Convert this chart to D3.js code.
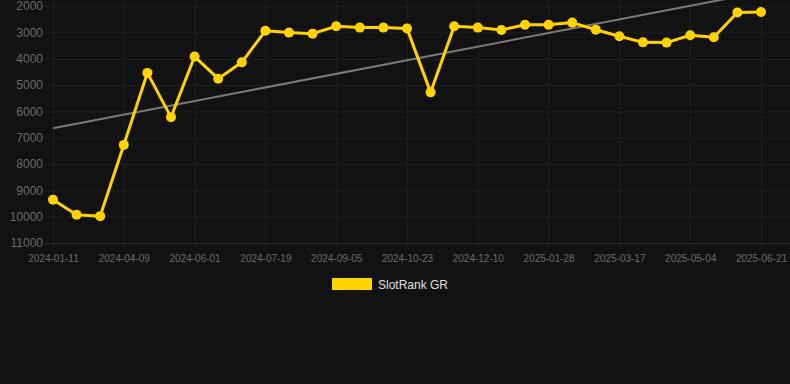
<!DOCTYPE html>
<html lang="en">
<head>
  <meta charset="UTF-8" />
  <title>SlotRank GR</title>
  <script src="https://d3js.org/d3.v7.min.js"></script>
  <style>
    body {
      margin: 0;
      background: #121212;
      font-family: Arial, "Liberation Sans", sans-serif;
    }
    svg { display: block; }
    .grid line { stroke: #1f1f1f; stroke-width: 1; }
    .tick text { fill: #6b6b6b; }
  </style>
</head>
<body>
  <svg width="790" height="384"></svg>
  <script>
    // Dates of each rank sample (only every third one is labelled)
    const dates = [
      "2024-01-11", "2024-02-10", "2024-03-11", "2024-04-09", "2024-04-27", "2024-05-14",
      "2024-06-01", "2024-06-17", "2024-07-03", "2024-07-19", "2024-08-04", "2024-08-20",
      "2024-09-05", "2024-09-21", "2024-10-07", "2024-10-23", "2024-11-08", "2024-11-24",
      "2024-12-10", "2024-12-26", "2025-01-11", "2025-01-28", "2025-02-13", "2025-03-01",
      "2025-03-17", "2025-04-02", "2025-04-18", "2025-05-04", "2025-05-20", "2025-06-05",
      "2025-06-21"
    ];
    // Rank in Greece (lower is better)
    const rankGR = [
      9360, 9930, 9980, 7275, 4540, 6220,
      3920, 4760, 4140, 2940, 3010, 3050,
      2770, 2820, 2820, 2850, 5280, 2770,
      2820, 2910, 2710, 2710, 2630, 2900,
      3150, 3380, 3390, 3110, 3190, 2250,
      2230
    ];
    const yTicks = [2000, 3000, 4000, 5000, 6000, 7000, 8000, 9000, 10000, 11000];
    const seriesName = "SlotRank GR";

    const svg = d3.select("svg");
    const mLeft = 53, mRight = 761, mTop = 6, mBottom = 243;

    const x = d3.scalePoint().domain(dates).range([mLeft, mRight]);
    const y = d3.scaleLinear().domain([2000, 11000]).range([mTop, mBottom]);

    svg.append("defs").append("clipPath").attr("id", "plot")
      .append("rect").attr("x", 0).attr("y", 0).attr("width", 790).attr("height", mBottom);

    // vertical grid + x labels (every third date)
    const labelled = dates.filter((d, i) => i % 3 === 0);
    const xAxis = svg.append("g")
      .attr("class", "grid")
      .attr("transform", `translate(0,${mBottom + 5})`)
      .call(d3.axisBottom(x).tickValues(labelled).tickSize(-(mBottom + 5)).tickPadding(7))
      .call(g => g.select(".domain").remove());
    xAxis.selectAll("text").attr("font-size", 10);

    // horizontal grid + y labels
    const yAxis = svg.append("g")
      .attr("class", "grid")
      .attr("transform", `translate(${mLeft - 8},0)`)
      .call(d3.axisLeft(y).tickValues(yTicks).tickFormat(d3.format("d")).tickSize(0).tickPadding(2))
      .call(g => g.select(".domain").remove());
    yAxis.selectAll("text").attr("font-size", 12);
    yAxis.selectAll("line").attr("x1", 0).attr("x2", 790);
    yAxis.selectAll(".tick").filter(d => d === 11000).select("line").style("stroke", "#2c2c2c");

    // trend line from least-squares fit of the ranks
    const n = rankGR.length;
    const mx = d3.mean(rankGR, (d, i) => i);
    const my = d3.mean(rankGR);
    const slope = d3.sum(rankGR, (d, i) => (i - mx) * (d - my)) / d3.sum(rankGR, (d, i) => (i - mx) * (i - mx));
    const trend = [0, n - 1].map(i => ({ d: dates[i], v: my + slope * (i - mx) }));

    const plot = svg.append("g").attr("clip-path", "url(#plot)");

    plot.append("path")
      .datum(trend)
      .attr("fill", "none")
      .attr("stroke", "#7a7a7a")
      .attr("stroke-width", 2)
      .attr("d", d3.line().x(d => x(d.d)).y(d => y(d.v)));

    const pts = dates.map((d, i) => ({ d, v: rankGR[i] }));

    plot.append("path")
      .datum(pts)
      .attr("fill", "none")
      .attr("stroke", "#ffd200")
      .attr("stroke-width", 3)
      .attr("stroke-linejoin", "round")
      .attr("d", d3.line().x(d => x(d.d)).y(d => y(d.v)));

    plot.selectAll("circle.pt")
      .data(pts)
      .enter()
      .append("circle")
      .attr("class", "pt")
      .attr("cx", d => x(d.d))
      .attr("cy", d => y(d.v))
      .attr("r", 5)
      .attr("fill", "#ffd200");

    // legend
    const legend = svg.append("g").attr("transform", "translate(332,278)");
    legend.append("rect").attr("width", 40).attr("height", 12).attr("fill", "#ffd200");
    legend.append("text")
      .attr("x", 46).attr("y", 10.5)
      .attr("font-size", 12)
      .attr("fill", "#e0e0e0")
      .text(seriesName);
  </script>
</body>
</html>
